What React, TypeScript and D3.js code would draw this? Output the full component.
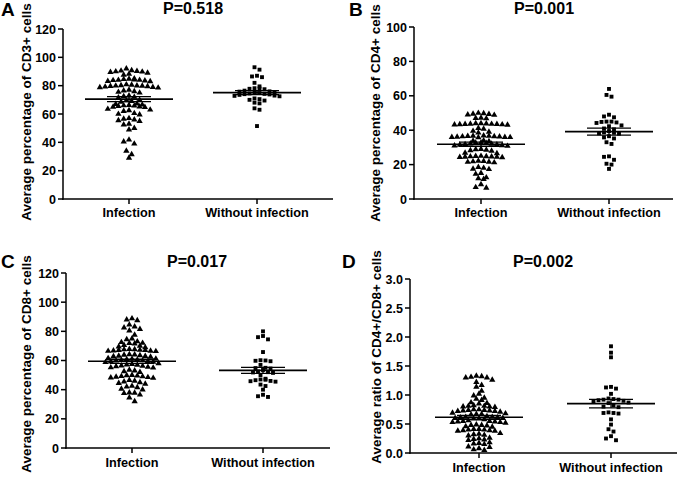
import React from 'react';
import * as d3 from 'd3';

const CATEGORIES = ['Infection', 'Without infection'];
const LETTERS = ['A', 'B', 'C', 'D'];
const TITLES = ['P=0.518', 'P=0.001', 'P=0.017', 'P=0.002'];
const Y_LABELS = [
  'Average percentage of CD3+ cells',
  'Average percentage of CD4+ cells',
  'Average percentage of CD8+ cells',
  'Average ratio of CD4+/CD8+ cells',
];
const TICKS_A = [0, 20, 40, 60, 80, 100, 120];
const TICKS_B = [0, 20, 40, 60, 80, 100];
const TICKS_C = [0, 20, 40, 60, 80, 100, 120];
const TICKS_D = [0, 0.5, 1.0, 1.5, 2.0, 2.5, 3.0];

// Panel A: CD3+
const A_INFECTION = [
  92,
  90.8, 90.5, 90.2, 90, 89.8, 89.5, 89, 88.2, 87.6,
  85, 84.8, 84.5, 84.2, 84, 84, 83.8, 83.5, 83.2, 83,
  80.8, 80.5, 80.2, 80, 79.9, 79.8, 79.6, 79.5, 79.2, 79, 78.8, 78.5,
  77, 76.5, 76, 75.5, 75,
  73, 72.5, 72, 71.5,
  70, 69.5, 69, 68.5,
  67.3, 67, 66.5, 66.2, 66, 65.8, 65.5, 65.2, 65, 64.8,
  63.5, 63, 62.5, 62,
  60.5, 60, 59.5,
  57, 56.5, 56, 55.5, 55,
  53, 52.5,
  50, 49,
  41.8, 40.5, 39, 34, 31.5, 29,
];
const A_WITHOUT = [
  93, 91.3, 87, 86.5, 86, 82, 79.5,
  78, 77.5, 78.2, 77.8, 76.5, 76, 75.8, 75.5, 75, 74.8,
  74.5, 74.2, 74, 73.8, 73.5, 73, 72.8, 72.5,
  71, 70.5, 70, 69.5, 68, 67.5, 64, 63, 51.5,
];

// Panel B: CD4+
const B_INFECTION = [
  50, 49.8, 49.5, 49.3, 49, 48.8,
  47.2, 47, 46.8,
  44, 43.8, 43.6, 43.5, 43.4, 43.2, 43.5, 43.7, 43.9, 43.1, 43.3,
  41.2, 40.8,
  39.5, 39, 38.5,
  36.5, 36.3, 36.2, 36, 36.8, 36.1, 36.4, 35.9, 36.6, 36.7, 36, 35.8,
  34, 33.8, 33.5,
  32.8, 32.5, 32.2, 32, 31.8, 31.5, 31.2, 31, 30.8, 32.6, 31.6,
  29, 28.5, 28.3, 28, 28.8,
  26.5, 26.8,
  25, 24.8, 24.6, 24.5, 24.4, 24.2, 24.9, 24.7, 24.3,
  22, 21.8, 21.5, 21.6, 22.2, 21.2,
  18.5, 18, 17.5, 17.3,
  15, 14.5,
  12.5, 12, 11.5,
  8.5,
  6.5, 6.8,
];
const B_WITHOUT = [
  64, 60.5, 59.5, 49, 48, 47.5, 45, 45, 44.8, 44.5, 44.2, 42.8, 42.3,
  41, 40.5, 39.5, 38.8, 38.5, 38.2, 38, 36.5, 35.8, 35.2, 33, 32,
  24.8, 24.5, 22.8, 20.5, 20, 17.5,
];

// Panel C: CD8+
const C_INFECTION = [
  88.8, 88, 87.5,
  84.5, 83.2, 82.5, 81.5, 80.5,
  77.5,
  75, 74.5,
  73, 72.5, 72, 71.8, 71.5, 70.5,
  70, 69.5, 69,
  67.5, 67.2, 67, 66.8, 66.5, 67.8, 66.3, 67.6, 66.6, 67.1,
  64, 63.8, 63.5, 63.2, 63, 62.8, 62.5, 64.2,
  61.5, 61, 60.8, 60.5, 60.2, 60, 59.8, 59.5, 59.2, 59, 58.8, 61.2,
  58, 57.5, 57.2, 57, 56.5, 56.2, 56, 55.5, 55.2, 55,
  53.5, 53, 52.5, 52,
  50, 49.5, 49.2, 49, 48.8, 48.5, 48.2, 49.8, 48,
  46.5, 46, 45.5, 45, 44.5, 44,
  42.5, 42, 41.5, 40.5, 40,
  38, 37.8, 37.5, 36.5,
  34.5, 32,
];
const C_WITHOUT = [
  80, 76.8, 76, 74.5, 65.8, 60.2, 60, 59.8, 59.5, 57,
  55, 54.8, 54.5, 53.5, 52.5, 52, 51.8, 51.5, 50,
  47.5, 47, 46.8, 46.5, 46, 45.8, 45.5, 43.5, 42.5, 40, 36.5, 35.5, 35,
];

// Panel D: CD4+/CD8+ ratio
const D_INFECTION = [
  1.33, 1.32, 1.31, 1.3, 1.3,
  1.26, 1.22,
  1.17, 1.14,
  1.07, 1.02, 0.99,
  0.95, 0.93, 0.91,
  0.87, 0.86, 0.85,
  0.82, 0.81, 0.8, 0.8, 0.79, 0.81,
  0.75, 0.74, 0.74, 0.73, 0.72, 0.73, 0.75, 0.72, 0.71,
  0.69, 0.68, 0.67, 0.66, 0.67,
  0.63, 0.62, 0.61, 0.6, 0.6, 0.59, 0.58, 0.62, 0.61, 0.59,
  0.56, 0.55, 0.54, 0.53, 0.52, 0.55, 0.54, 0.53,
  0.49, 0.48, 0.47, 0.46, 0.45, 0.48,
  0.41, 0.4, 0.39, 0.38, 0.38, 0.4, 0.39, 0.41,
  0.34, 0.33, 0.32, 0.31, 0.3,
  0.26, 0.25, 0.24, 0.23, 0.22,
  0.18, 0.17, 0.16, 0.15,
  0.11, 0.1, 0.08, 0.06, 0.05,
];
const D_WITHOUT = [
  1.84, 1.73, 1.65, 1.14, 1.13, 1.11, 1.02, 0.94, 0.93, 0.92, 0.92, 0.91, 0.9,
  0.88, 0.87, 0.86, 0.82, 0.8, 0.79, 0.7, 0.69, 0.69, 0.68, 0.58, 0.49, 0.41,
  0.37, 0.29, 0.25, 0.22,
];

// ---------- layout (positions & styles) ----------
const FONT = '"Liberation Sans", Arial, Helvetica, sans-serif';

const PANELS = [
  {
    ticks: TICKS_A, fmt: (d: number) => String(d), infection: A_INFECTION, without: A_WITHOUT,
    axisX: 63, axisRight: 333, yBottom: 199, yTop: 29, cats: [129, 257],
    titleX: 193, titleY: 14, letterX: 1, letterY: 16, ylabX: 31, ylabY: 112, catY: 216.5,
  },
  {
    ticks: TICKS_B, fmt: (d: number) => String(d), infection: B_INFECTION, without: B_WITHOUT,
    axisX: 414, axisRight: 673, yBottom: 199, yTop: 27, cats: [481, 609],
    titleX: 544, titleY: 14, letterX: 349, letterY: 16, ylabX: 380, ylabY: 113, catY: 217,
  },
  {
    ticks: TICKS_C, fmt: (d: number) => String(d), infection: C_INFECTION, without: C_WITHOUT,
    axisX: 66, axisRight: 330, yBottom: 448, yTop: 273, cats: [132, 263],
    titleX: 197, titleY: 266.5, letterX: 1, letterY: 268, ylabX: 31, ylabY: 364, catY: 466.5,
  },
  {
    ticks: TICKS_D, fmt: (d: number) => d.toFixed(1), infection: D_INFECTION, without: D_WITHOUT,
    axisX: 410, axisRight: 677, yBottom: 453, yTop: 279, cats: [479, 611],
    titleX: 543, titleY: 266.5, letterX: 342, letterY: 268, ylabX: 381, ylabY: 357, catY: 471.5,
  },
];

const STEP = 5.3;
const ROW_H = 4.6;

function swarm(values: number[], y: (v: number) => number, cx: number, step: number, rowH: number) {
  const pts = values.map((v) => ({ v, py: y(v) })).sort((a, b) => a.py - b.py);
  const rows: { start: number; items: { v: number; py: number }[] }[] = [];
  let cur: { start: number; items: { v: number; py: number }[] } | null = null;
  for (const p of pts) {
    if (!cur || p.py - cur.start > rowH) {
      cur = { start: p.py, items: [] };
      rows.push(cur);
    }
    cur.items.push(p);
  }
  const out: { x: number; y: number }[] = [];
  rows.forEach((r) => {
    const n = r.items.length;
    const slots = d3.range(n).map((i) => (i - (n - 1) / 2) * step);
    // center-out ordering of slots
    const order = slots
      .map((s, i) => ({ s, i }))
      .sort((a, b) => Math.abs(a.s) - Math.abs(b.s) || a.s - b.s);
    r.items.forEach((p, i) => out.push({ x: cx + order[i].s, y: p.py }));
  });
  return out;
}

const triPath = d3.symbol(d3.symbolTriangle, 17)() as string;
const sqPath = d3.symbol(d3.symbolSquare, 15)() as string;

function Panel({ p, idx }: { p: (typeof PANELS)[number]; idx: number }) {
  const domainMax = p.ticks[p.ticks.length - 1];
  const y = d3.scaleLinear().domain([0, domainMax]).range([p.yBottom, p.yTop]);
  const x = d3.scalePoint<string>().domain(CATEGORIES).range(p.cats as [number, number]).padding(0);
  const groups = [p.infection, p.without];

  return (
    <g>
      <text x={p.letterX} y={p.letterY} fontFamily={FONT} fontWeight="bold" fontSize={19} fill="#000">
        {LETTERS[idx]}
      </text>
      <text x={p.titleX} y={p.titleY} fontFamily={FONT} fontWeight="bold" fontSize={16} textAnchor="middle" fill="#000">
        {TITLES[idx]}
      </text>
      <text
        transform={`translate(${p.ylabX},${p.ylabY}) rotate(-90)`}
        fontFamily={FONT}
        fontWeight="bold"
        fontSize={13.5}
        textAnchor="middle"
        fill="#000"
      >
        {Y_LABELS[idx]}
      </text>
      {/* y axis */}
      <line x1={p.axisX} x2={p.axisX} y1={y(domainMax)} y2={y(0) + 0.75} stroke="#000" strokeWidth={1.5} />
      {p.ticks.map((t) => (
        <g key={t}>
          <line x1={p.axisX - 5} x2={p.axisX} y1={y(t)} y2={y(t)} stroke="#000" strokeWidth={1.5} />
          <text
            x={p.axisX - 7}
            y={y(t)}
            dy="0.36em"
            textAnchor="end"
            fontFamily={FONT}
            fontWeight="bold"
            fontSize={12.5}
            fill="#000"
          >
            {p.fmt(t)}
          </text>
        </g>
      ))}
      {/* x axis */}
      <line x1={p.axisX - 0.75} x2={p.axisRight} y1={y(0)} y2={y(0)} stroke="#000" strokeWidth={1.5} />
      {CATEGORIES.map((c) => (
        <g key={c}>
          <line x1={x(c)} x2={x(c)} y1={y(0)} y2={y(0) + 5} stroke="#000" strokeWidth={1.5} />
          <text
            x={x(c)}
            y={p.catY}
            textAnchor="middle"
            fontFamily={FONT}
            fontWeight="bold"
            fontSize={12.7}
            fill="#000"
          >
            {c}
          </text>
        </g>
      ))}
      {/* points */}
      {groups.map((vals, gi) => {
        const cx = x(CATEGORIES[gi]) as number;
        const pts = swarm(vals, y, cx, gi === 0 ? STEP : 5, gi === 0 ? ROW_H : 4.2);
        return (
          <g key={gi}>
            {pts.map((pt, i) => (
              <path key={i} d={gi === 0 ? triPath : sqPath} transform={`translate(${pt.x},${pt.y})`} fill="#000" />
            ))}
          </g>
        );
      })}
      {/* mean & SEM */}
      {groups.map((vals, gi) => {
        const cx = x(CATEGORIES[gi]) as number;
        const m = d3.mean(vals) as number;
        const sem = (d3.deviation(vals) as number) / Math.sqrt(vals.length);
        return (
          <g key={'m' + gi} stroke="#000">
            <line x1={cx - 44} x2={cx + 44} y1={y(m)} y2={y(m)} strokeWidth={1.6} />
            <line x1={cx - 22} x2={cx + 22} y1={y(m + sem)} y2={y(m + sem)} strokeWidth={1.3} />
            <line x1={cx - 22} x2={cx + 22} y1={y(m - sem)} y2={y(m - sem)} strokeWidth={1.3} />
            <line x1={cx} x2={cx} y1={y(m + sem)} y2={y(m - sem)} strokeWidth={1.3} />
          </g>
        );
      })}
    </g>
  );
}

export default function App() {
  return (
    <svg
      width={680}
      height={481}
      viewBox="0 0 680 481"
      style={{ position: 'absolute', left: 0, top: 0, background: '#fff' }}
    >
      <rect x={0} y={0} width={680} height={481} fill="#fff" />
      {PANELS.map((p, i) => (
        <Panel key={i} p={p} idx={i} />
      ))}
    </svg>
  );
}
